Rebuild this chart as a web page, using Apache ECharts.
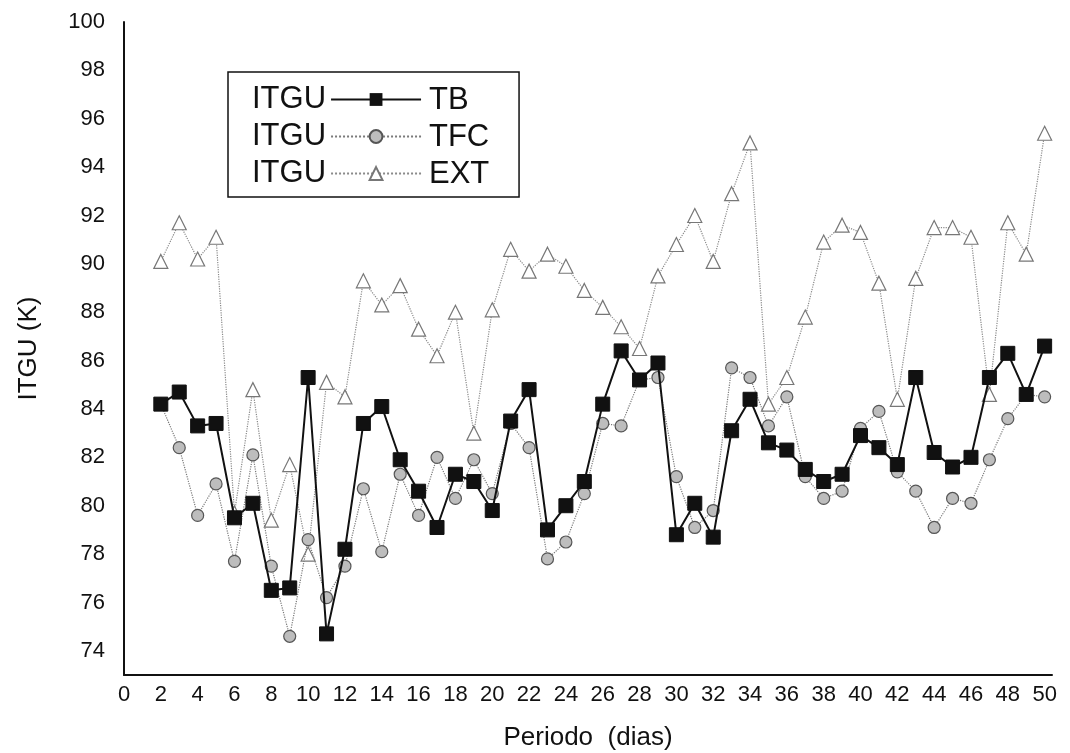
<!DOCTYPE html>
<html>
<head>
<meta charset="utf-8">
<script src="https://cdn.jsdelivr.net/npm/echarts@6/dist/echarts.min.js"></script>
<style>
  html, body { margin: 0; padding: 0; background: #fff; }
  #chart { width: 1070px; height: 753px; }
</style>
</head>
<body>
<div id="chart"></div>
<script>
// dias 2..50
const days = [2, 3, 4, 5, 6, 7, 8, 9, 10, 11, 12, 13, 14, 15, 16, 17, 18, 19, 20, 21, 22, 23, 24, 25, 26,
  27, 28, 29, 30, 31, 32, 33, 34, 35, 36, 37, 38, 39, 40, 41, 42, 43, 44, 45, 46, 47, 48, 49, 50]

const tb = [84.2, 84.7, 83.3, 83.4, 79.5, 80.1, 76.5, 76.6, 85.3, 74.7, 78.2, 83.4, 84.1, 81.9, 80.6, 79.1,
  81.3, 81.0, 79.8, 83.5, 84.8, 79.0, 80.0, 81.0, 84.2, 86.4, 85.2, 85.9, 78.8, 80.1, 78.7, 83.1, 84.4,
  82.6, 82.3, 81.5, 81.0, 81.3, 82.9, 82.4, 81.7, 85.3, 82.2, 81.6, 82.0, 85.3, 86.3, 84.6, 86.6]

const tfc = [84.2, 82.4, 79.6, 80.9, 77.7, 82.1, 77.5, 74.6, 78.6, 76.2, 77.5, 80.7, 78.1, 81.3, 79.6, 82.0,
  80.3, 81.9, 80.5, 83.4, 82.4, 77.8, 78.5, 80.5, 83.4, 83.3, 85.2, 85.3, 81.2, 79.1, 79.8, 85.7, 85.3,
  83.3, 84.5, 81.2, 80.3, 80.6, 83.2, 83.9, 81.4, 80.6, 79.1, 80.3, 80.1, 81.9, 83.6, 84.6, 84.5]

const ext = [90.1, 91.7, 90.2, 91.1, 79.7, 84.8, 79.4, 81.7, 78.0, 85.1, 84.5, 89.3, 88.3, 89.1, 87.3, 86.2,
  88.0, 83.0, 88.1, 90.6, 89.7, 90.4, 89.9, 88.9, 88.2, 87.4, 86.5, 89.5, 90.8, 92.0, 90.1, 92.9, 95.0,
  84.2, 85.3, 87.8, 90.9, 91.6, 91.3, 89.2, 84.4, 89.4, 91.5, 91.5, 91.1, 84.6, 91.7, 90.4, 95.4]

const xTicks = [0, 2, 4, 6, 8, 10, 12, 14, 16, 18, 20, 22, 24, 26, 28, 30, 32, 34, 36, 38, 40, 42, 44, 46, 48, 50]
const yTicks = [74, 76, 78, 80, 82, 84, 86, 88, 90, 92, 94, 96, 98, 100]

const FONT = '"Liberation Sans", Arial, sans-serif'

const pairs = (vals) => days.map((d, i) => [d, vals[i]])

const chart = echarts.init(document.getElementById('chart'), null, { renderer: 'canvas' })

chart.setOption({
  animation: false,
  backgroundColor: '#fff',
  grid: { left: 124, top: 22, right: 18, bottom: 78, outerBoundsMode: 'none', containLabel: false },
  legend: {
    orient: 'vertical',
    left: 228,
    top: 72,
    align: 'right',
    padding: [9, 97, 5, 24],
    itemGap: 0,
    itemWidth: 90,
    itemHeight: 16,
    borderColor: '#111',
    borderWidth: 1.5,
    borderRadius: 0,
    selectedMode: false,
    formatter: () => 'ITGU',
    textStyle: { fontFamily: FONT, fontSize: 31, color: '#111', lineHeight: 37 },
    data: ['TB', 'TFC', 'EXT']
  },
  graphic: [
    { type: 'text', x: 429, y: 100, style: { text: 'TB', fontFamily: FONT, fontSize: 31, fill: '#111', verticalAlign: 'middle' } },
    { type: 'text', x: 429, y: 137, style: { text: 'TFC', fontFamily: FONT, fontSize: 31, fill: '#111', verticalAlign: 'middle' } },
    { type: 'text', x: 429, y: 174, style: { text: 'EXT', fontFamily: FONT, fontSize: 31, fill: '#111', verticalAlign: 'middle' } }
  ],
  xAxis: {
    type: 'value',
    min: 0,
    max: 50.4,
    name: 'Periodo  (dias)',
    nameLocation: 'middle',
    nameGap: 50,
    nameTextStyle: { fontFamily: FONT, fontSize: 26, color: '#111' },
    axisLine: { onZero: false, lineStyle: { color: '#111', width: 2 } },
    axisTick: { show: false },
    splitLine: { show: false },
    axisLabel: { customValues: xTicks, margin: 9, fontFamily: FONT, fontSize: 22, color: '#111' }
  },
  yAxis: {
    type: 'value',
    min: 73,
    max: 100,
    name: 'ITGU (K)',
    nameLocation: 'middle',
    nameGap: 82,
    nameTextStyle: { fontFamily: FONT, fontSize: 26, color: '#111' },
    axisLine: { show: true, lineStyle: { color: '#111', width: 2 } },
    axisTick: { show: false },
    splitLine: { show: false },
    axisLabel: { customValues: yTicks, margin: 19, fontFamily: FONT, fontSize: 22, color: '#111' }
  },
  series: [
    {
      name: 'EXT',
      type: 'line',
      data: pairs(ext),
      symbol: 'triangle',
      symbolSize: 14,
      z: 2,
      lineStyle: { color: '#8a8a8a', width: 1.2, type: 'dotted' },
      itemStyle: { color: '#fff', borderColor: '#777', borderWidth: 1.2 }
    },
    {
      name: 'TFC',
      type: 'line',
      data: pairs(tfc),
      symbol: 'circle',
      symbolSize: 12,
      z: 3,
      lineStyle: { color: '#7a7a7a', width: 1.2, type: 'dotted' },
      itemStyle: { color: '#bdbdbd', borderColor: '#555', borderWidth: 1.2 }
    },
    {
      name: 'TB',
      type: 'line',
      data: pairs(tb),
      symbol: 'rect',
      symbolSize: 14,
      z: 4,
      lineStyle: { color: '#111', width: 2 },
      itemStyle: { color: '#111', borderColor: '#111' }
    }
  ]
})
</script>
</body>
</html>
